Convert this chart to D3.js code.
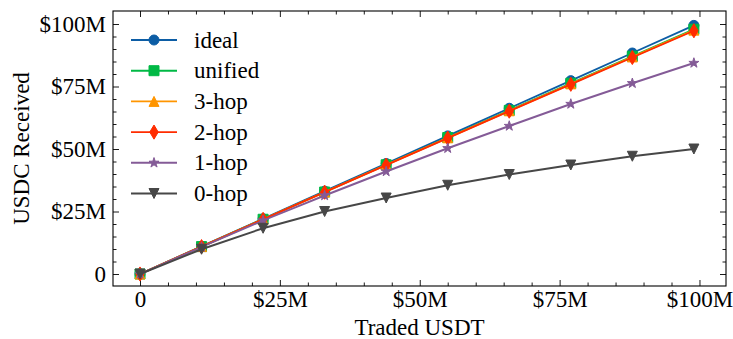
<!DOCTYPE html>
<html>
<head>
<meta charset="utf-8">
<script src="https://cdn.jsdelivr.net/npm/d3@7"></script>
<style>
  body { margin: 0; background: #fff; }
  svg text { font-family: "Liberation Serif", "DejaVu Serif", serif; fill: #000; }
</style>
</head>
<body>
<div id="chart"></div>
<script>
// traded amount (millions USDT)
const tradedUSDT = [0, 11, 22, 33, 44, 55, 66, 77, 88, 99];

// USDC received (millions)
const ideal   = [0, 11.05, 22.1, 33.15, 44.2, 55.25, 66.3, 77.35, 88.4, 99.45];
const unified = [0, 10.97, 21.9, 32.8, 43.7, 54.6, 65.45, 76.3, 87.1, 97.9];
const hop3    = [0, 10.96, 21.88, 32.77, 43.63, 54.47, 65.28, 76.06, 86.82, 97.55];
const hop2    = [0, 10.95, 21.85, 32.72, 43.55, 54.36, 65.13, 75.88, 86.6, 97.3];
const hop1    = [0, 10.8, 21.4, 31.4, 41.0, 50.3, 59.2, 68.0, 76.3, 84.4];
const hop0    = [0, 9.9, 18.3, 25.0, 30.4, 35.5, 39.8, 43.6, 47.1, 50.0];

const seriesNames = ["ideal", "unified", "3-hop", "2-hop", "1-hop", "0-hop"];
const seriesValues = [ideal, unified, hop3, hop2, hop1, hop0];
const seriesColors = ["#0C5DA5", "#00B945", "#FF9500", "#FF2C00", "#845B97", "#474747"];
const seriesMarkers = ["circle", "square", "triUp", "thinDiamond", "star", "triDown"];

const majorTicks = [0, 25, 50, 75, 100];
const minorTicks = [5, 10, 15, 20, 30, 35, 40, 45, 55, 60, 65, 70, 80, 85, 90, 95];

const width = 733, height = 339;
const plot = { left: 113, right: 726, top: 11, bottom: 286 };
const FONT = "'Liberation Serif', 'DejaVu Serif', serif";
const FS = "23px";
const LW = 1.9;

const svg = d3.select("#chart").append("svg")
  .attr("width", width)
  .attr("height", height);

const x = d3.scaleLinear().domain([-4.826, 104.74]).range([plot.left, plot.right]);
const y = d3.scaleLinear().domain([-4.8, 105.2]).range([plot.bottom, plot.top]);

const fmt = d => d === 0 ? "0" : `$${d}M`;

// marker paths, ms = marker size in px
const ms = 10;
function markerPath(kind) {
  const h = ms / 2;
  switch (kind) {
    case "circle": {
      const p = d3.path(); p.arc(0, 0, h, 0, 2 * Math.PI); return p.toString();
    }
    case "square":
      return `M${-h},${-h}H${h}V${h}H${-h}Z`;
    case "triUp":
      return `M0,${-h}L${h},${h}L${-h},${h}Z`;
    case "triDown":
      return `M0,${h}L${h},${-h}L${-h},${-h}Z`;
    case "thinDiamond": {
      const r = ms * Math.SQRT1_2;
      return `M0,${-r}L${0.6 * r},0L0,${r}L${-0.6 * r},0Z`;
    }
    case "star": {
      let d = "";
      for (let i = 0; i < 10; i++) {
        const rr = i % 2 === 0 ? h * 1.05 : h * 1.05 * 0.381966;
        const a = -Math.PI / 2 + i * Math.PI / 5;
        d += (i === 0 ? "M" : "L") + (rr * Math.cos(a)).toFixed(2) + "," + (rr * Math.sin(a)).toFixed(2);
      }
      return d + "Z";
    }
  }
}

// ticks (inward, all four sides)
const axisStyle = g => {
  g.attr("font-family", null).attr("font-size", null);
  g.select(".domain").remove();
  g.selectAll(".tick line").attr("stroke", "#000").attr("stroke-width", 0.9);
  g.selectAll(".tick text").style("font-size", FS).style("font-family", FONT);
};

svg.append("g").attr("transform", `translate(0,${plot.bottom})`)
  .call(d3.axisBottom(x).tickValues(majorTicks).tickSize(-6).tickPadding(5).tickFormat(fmt))
  .call(axisStyle);
svg.append("g").attr("transform", `translate(0,${plot.bottom})`)
  .call(d3.axisBottom(x).tickValues(minorTicks).tickSize(-3.5).tickFormat(""))
  .call(axisStyle);
svg.append("g").attr("transform", `translate(0,${plot.top})`)
  .call(d3.axisTop(x).tickValues(majorTicks).tickSize(-6).tickFormat(""))
  .call(axisStyle);
svg.append("g").attr("transform", `translate(0,${plot.top})`)
  .call(d3.axisTop(x).tickValues(minorTicks).tickSize(-3.5).tickFormat(""))
  .call(axisStyle);

svg.append("g").attr("transform", `translate(${plot.left},0)`)
  .call(d3.axisLeft(y).tickValues(majorTicks).tickSize(-6).tickPadding(7).tickFormat(fmt))
  .call(axisStyle);
svg.append("g").attr("transform", `translate(${plot.left},0)`)
  .call(d3.axisLeft(y).tickValues(minorTicks).tickSize(-3.5).tickFormat(""))
  .call(axisStyle);
svg.append("g").attr("transform", `translate(${plot.right},0)`)
  .call(d3.axisRight(y).tickValues(majorTicks).tickSize(-6).tickFormat(""))
  .call(axisStyle);
svg.append("g").attr("transform", `translate(${plot.right},0)`)
  .call(d3.axisRight(y).tickValues(minorTicks).tickSize(-3.5).tickFormat(""))
  .call(axisStyle);

// series
const line = d3.line().x((d, i) => x(tradedUSDT[i])).y(d => y(d));
svg.append("clipPath").attr("id", "clip")
  .append("rect").attr("x", plot.left).attr("y", plot.top)
  .attr("width", plot.right - plot.left).attr("height", plot.bottom - plot.top);

const dataLayer = svg.append("g").attr("clip-path", "url(#clip)");
seriesValues.forEach((vals, k) => {
  const g = dataLayer.append("g");
  g.append("path")
    .datum(vals)
    .attr("fill", "none")
    .attr("stroke", seriesColors[k])
    .attr("stroke-width", LW)
    .attr("d", line);
  g.selectAll("path.mk")
    .data(vals)
    .enter().append("path")
    .attr("class", "mk")
    .attr("d", markerPath(seriesMarkers[k]))
    .attr("transform", (d, i) => `translate(${x(tradedUSDT[i])},${y(d)})`)
    .attr("fill", seriesColors[k])
    .attr("stroke", seriesColors[k])
    .attr("stroke-width", 1);
});

// frame
svg.append("rect")
  .attr("x", plot.left).attr("y", plot.top)
  .attr("width", plot.right - plot.left).attr("height", plot.bottom - plot.top)
  .attr("fill", "none").attr("stroke", "#000").attr("stroke-width", 1.1);

// legend
const legend = svg.append("g");
seriesNames.forEach((name, k) => {
  const ly = 40 + k * 30.7;
  legend.append("line")
    .attr("x1", 131).attr("x2", 177).attr("y1", ly).attr("y2", ly)
    .attr("stroke", seriesColors[k]).attr("stroke-width", LW);
  legend.append("path")
    .attr("d", markerPath(seriesMarkers[k]))
    .attr("transform", `translate(154,${ly})`)
    .attr("fill", seriesColors[k]).attr("stroke", seriesColors[k]).attr("stroke-width", 1);
  legend.append("text")
    .attr("x", 194).attr("y", ly).attr("dy", "0.33em")
    .style("font-size", FS).style("font-family", FONT)
    .text(name);
});

// axis labels
svg.append("text")
  .attr("x", (plot.left + plot.right) / 2).attr("y", 335)
  .attr("text-anchor", "middle")
  .style("font-size", FS).style("font-family", FONT)
  .text("Traded USDT");

svg.append("text")
  .attr("transform", `translate(29,${(plot.top + plot.bottom) / 2}) rotate(-90)`)
  .attr("text-anchor", "middle")
  .style("font-size", FS).style("font-family", FONT)
  .text("USDC Received");
</script>
</body>
</html>
